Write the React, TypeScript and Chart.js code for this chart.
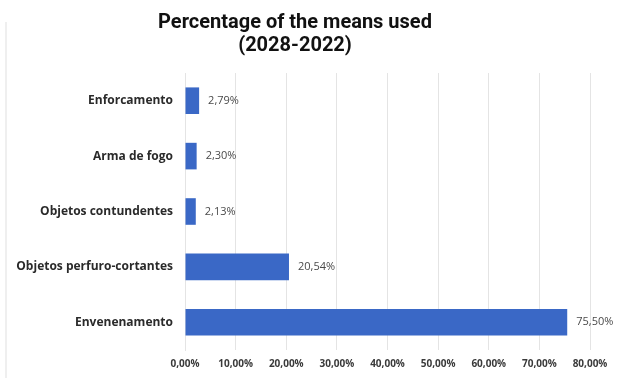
import React, { useEffect, useRef } from "react";
import { Chart, registerables } from "chart.js";

Chart.register(...registerables);

const categories = [
  "Enforcamento",
  "Arma de fogo",
  "Objetos contundentes",
  "Objetos perfuro-cortantes",
  "Envenenamento",
];
const values = [2.79, 2.3, 2.13, 20.54, 75.5];
const titleLines = ["Percentage of the means used", "(2028-2022)"];
const xMax = 80;
const xStep = 10;

const fmt = (v: number) => v.toFixed(2).replace(".", ",") + "%";

const valueLabels = {
  id: "valueLabels",
  afterDatasetsDraw(chart: any) {
    const ctx = chart.ctx;
    const meta = chart.getDatasetMeta(0);
    ctx.save();
    ctx.font = "11px 'Open Sans'";
    ctx.fillStyle = "#4a4a4a";
    ctx.textAlign = "left";
    ctx.textBaseline = "middle";
    meta.data.forEach((el: any, i: number) => {
      ctx.fillText(fmt(values[i]), el.x + 9, el.y);
    });
    ctx.restore();
  },
};

export default function App() {
  const ref = useRef<HTMLCanvasElement>(null);
  useEffect(() => {
    if (!ref.current) return;
    const chart = new Chart(ref.current, {
      type: "bar",
      data: {
        labels: categories,
        datasets: [
          {
            data: values,
            backgroundColor: (c: any) => {
              const el = c.element;
              const y = el && el.y;
              if (!c.chart.chartArea || !Number.isFinite(y)) return "#3a68c6";
              const h = 13;
              const g = c.chart.ctx.createLinearGradient(0, y - h, 0, y + h);
              g.addColorStop(0, "#4b7ad3");
              g.addColorStop(0.5, "#3a68c6");
              g.addColorStop(1, "#2a55ad");
              return g;
            },
            borderWidth: 0,
            barPercentage: 0.48,
            categoryPercentage: 1,
          },
        ],
      },
      options: {
        indexAxis: "y",
        animation: false,
        responsive: false,
        layout: { padding: { left: 0, right: 31, top: 0, bottom: 0 } },
        plugins: {
          legend: { display: false },
          tooltip: { enabled: false },
          title: {
            display: true,
            text: titleLines,
            color: "#111",
            font: { family: "Roboto", size: 20, weight: "bold", lineHeight: 1.15 },
            padding: { top: 11, bottom: 16 },
          },
        },
        scales: {
          x: {
            min: 0,
            max: xMax,
            ticks: {
              stepSize: xStep,
              color: "#3a3a3a",
              font: { family: "Open Sans", size: 10, weight: "bold" },
              padding: 8,
              callback: (v: any) => fmt(Number(v)),
              maxRotation: 0,
            },
            grid: { color: "#e4e4e4", drawTicks: false },
            border: { display: false },
          },
          y: {
            ticks: {
              color: "#2a2a2a",
              font: { family: "Open Sans", size: 12, weight: "bold" },
              padding: 12,
            },
            grid: { display: false, drawTicks: false },
            border: { display: true, color: "#e4e4e4" },
            afterFit: (s: any) => {
              s.width = 185;
            },
          },
        },
      },
      plugins: [valueLabels],
    });
    return () => chart.destroy();
  }, []);
  return (
    <div style={{ position: "absolute", left: 0, top: 0, width: 621, height: 378, background: "#fff" }}>
      <div
        style={{
          position: "absolute",
          left: 5,
          top: 22,
          width: 2,
          height: 356,
          background: "#efefef",
        }}
      />
      <canvas ref={ref} width={621} height={378} style={{ position: "absolute", left: 0, top: 0 }} />
    </div>
  );
}
